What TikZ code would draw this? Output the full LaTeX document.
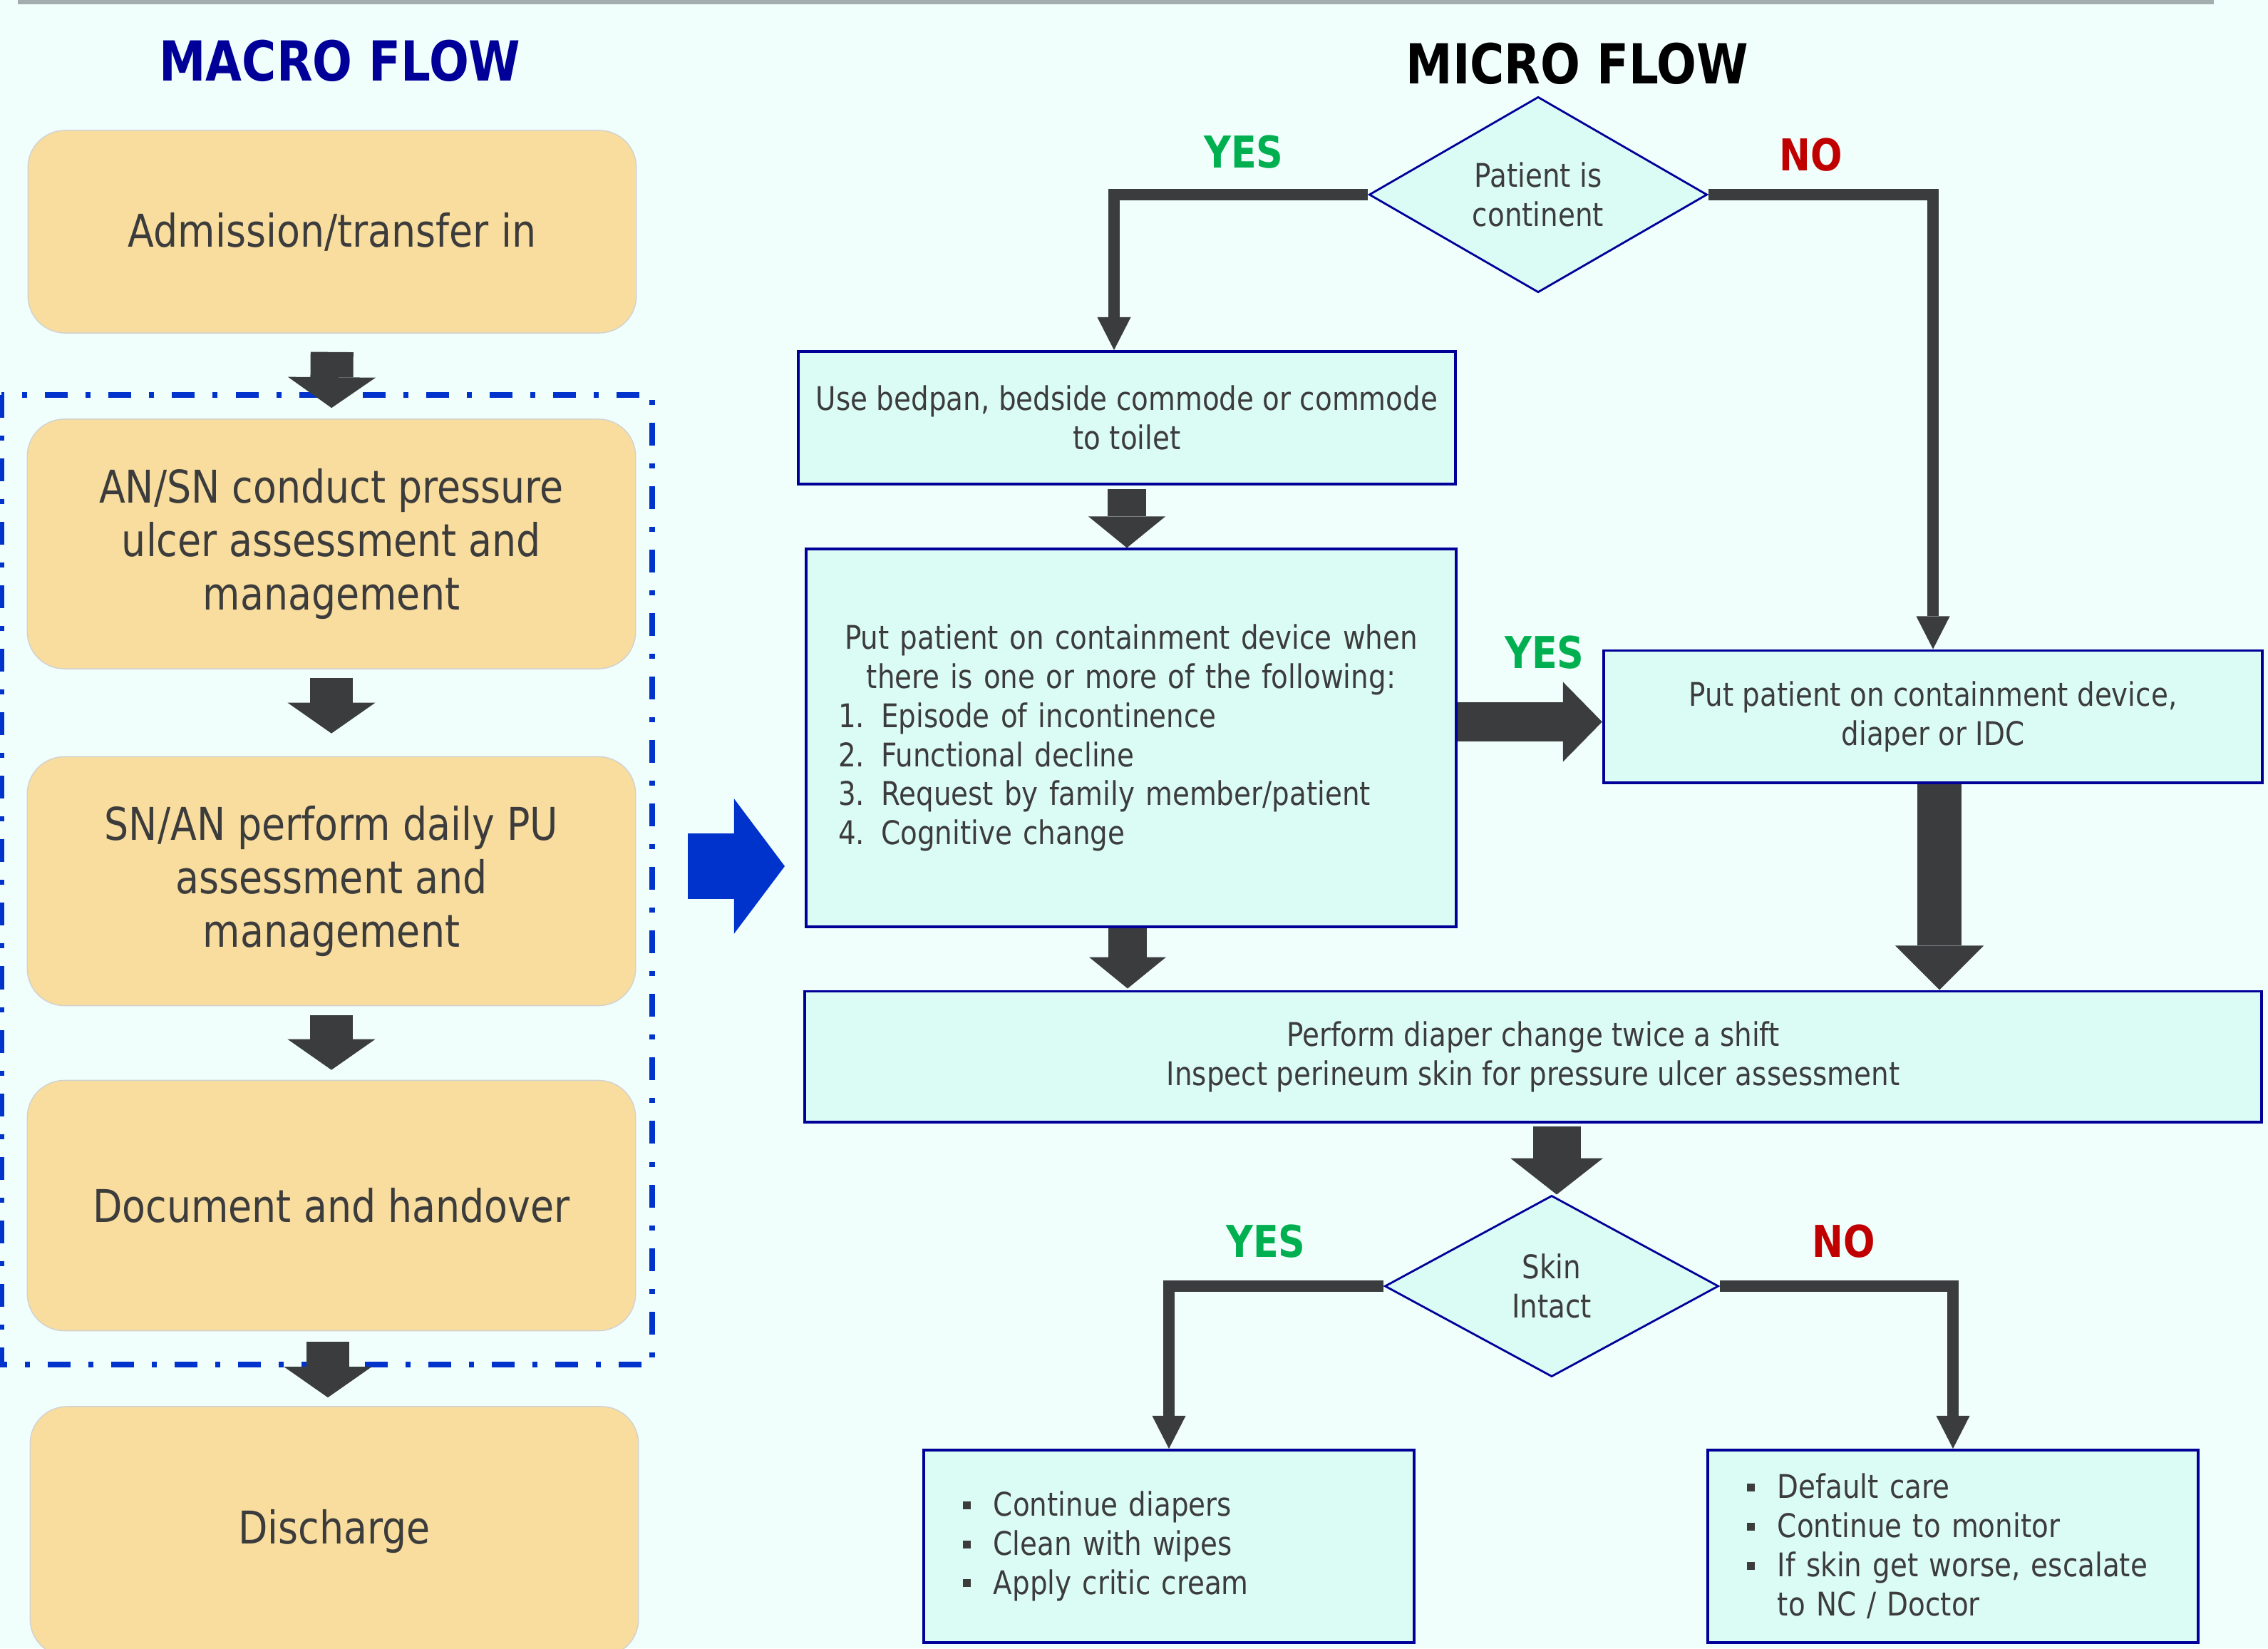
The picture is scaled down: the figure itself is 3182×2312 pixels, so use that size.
\documentclass[tikz,border=0pt]{standalone}
\usepackage{fontspec}
\setmainfont{DejaVu Sans}[FakeStretch=0.85]
\usetikzlibrary{arrows.meta, positioning, shapes.geometric}

\definecolor{pagebg}{HTML}{F0FEFC}
\definecolor{wheat}{HTML}{F8DD9E}
\definecolor{mint}{HTML}{DBFCF4}
\definecolor{navy}{HTML}{000099}
\definecolor{inkgray}{HTML}{3C3C3C}
\definecolor{arrowgray}{HTML}{3B3C3E}
\definecolor{flowblue}{HTML}{0033CC}
\definecolor{yesgreen}{HTML}{00B050}
\definecolor{nored}{HTML}{C00000}
\definecolor{shadegray}{HTML}{A3ADAD}

\newcommand{\sqbullet}{\makebox[0.43cm][l]{\rule[0.1cm]{0.11cm}{0.11cm}}}

\begin{document}
\begin{tikzpicture}[x=0.01cm, y=-0.01cm,
    macrobox/.style={draw=black!18, fill=wheat, rounded corners=0.52cm, minimum width=8.53cm, align=center, text=inkgray, font=\fontsize{18}{21.3}\selectfont},
    microbox/.style={draw=navy, line width=1.1pt, fill=mint, inner sep=0pt, align=center, text=inkgray, font=\fontsize{13}{15.6}\selectfont},
    decision/.style={diamond, draw=navy, line width=0.8pt, fill=mint, inner sep=0pt, align=center, text=inkgray, font=\fontsize{13}{15.6}\selectfont},
    title/.style={font=\bfseries\fontsize{22}{26}\selectfont},
    answer/.style={font=\bfseries\fontsize{17.5}{20}\selectfont},
    macroarrow/.style={draw=arrowgray, line width=0.6cm, -{Triangle[length=0.43cm, width=1.23cm, line width=0pt]}},
    stepdown/.style={draw=arrowgray, line width=0.54cm, -{Triangle[length=0.44cm, width=1.08cm, line width=0pt]}},
    elbow/.style={draw=arrowgray, line width=0.16cm, -{Triangle[length=0.46cm, width=0.47cm, line width=0pt]}}
  ]
    \useasboundingbox (0,0) rectangle (3182,2312);
    \fill[pagebg] (0,0) rectangle (3182,2312);
    \fill[shadegray] (25,0) rectangle (3106,6);

    % macro flow
    \node[title, text=navy] (macrotitle) at (477,85) {MACRO FLOW};
    \draw[flowblue, line width=0.075cm, dash pattern=on 0.32cm off 0.25cm on 0.07cm off 0.25cm] (2,554) rectangle (915,1914);
    \node[macrobox, minimum height=2.84cm] (admit) at (466,325) {Admission/transfer in};
    \node[macrobox, minimum height=3.50cm] (assess) at (465,763) {AN/SN conduct pressure\\ulcer assessment and\\management};
    \node[macrobox, minimum height=3.49cm] (daily) at (465,1236) {SN/AN perform daily PU\\assessment and\\management};
    \node[macrobox, minimum height=3.51cm] (handover) at (465,1691) {Document and handover};
    \node[macrobox, minimum height=3.50cm] (discharge) at (469,2148) {Discharge};
    \draw[macroarrow, shorten <=0.26cm, shorten >=0.15cm] (admit.south) -- (assess.north);
    \draw[macroarrow, shorten <=0.12cm, shorten >=0.32cm] (assess.south) -- (daily.north);
    \draw[macroarrow, shorten <=0.13cm, shorten >=0.14cm] (daily.south) -- (handover.north);
    \draw[macroarrow, shorten <=0.15cm, shorten >=0.12cm] ([xshift=-0.05cm]handover.south) -- ([xshift=-0.05cm]handover.south |- discharge.north);

    % link between the two flows
    \coordinate (handoff) at (965,1215);
    \coordinate (intake) at (1101,1215);
    \draw[flowblue, line width=0.92cm, -{Triangle[length=0.71cm, width=1.89cm, line width=0pt]}] (handoff) -- (intake);

    % micro flow
    \node[title] (microtitle) at (2213,89) {MICRO FLOW};
    \node[decision, minimum width=4.74cm, minimum height=2.57cm] (continent) at (2158,273) {Patient is\\continent};
    \node[microbox, minimum width=9.22cm, minimum height=1.86cm] (bedpan) at (1581,586) {Use bedpan, bedside commode or commode\\to toilet};
    \node[microbox, text width=8.21cm, inner xsep=0.45cm, minimum height=5.29cm, align=left] (contain) at (1587,1035) {{\centering Put patient on containment device when\\there is one or more of the following:\par}1. Episode of incontinence\\2. Functional decline\\3. Request by family member/patient\\4. Cognitive change};
    \node[microbox, minimum width=9.24cm, minimum height=1.85cm] (diaper) at (2712,1005) {Put patient on containment device,\\diaper or IDC};
    \node[microbox, minimum width=20.42cm, minimum height=1.83cm] (perform) at (2151,1482) {Perform diaper change twice a shift\\Inspect perineum skin for pressure ulcer assessment};
    \node[decision, minimum width=4.68cm, minimum height=2.54cm] (skin) at (2177,1804) {Skin\\Intact};
    \node[microbox, text width=5.78cm, inner xsep=0.55cm, minimum height=2.70cm, align=left] (keep) at (1640,2169) {\sqbullet Continue diapers\\\sqbullet Clean with wipes\\\sqbullet Apply critic cream};
    \node[microbox, text width=5.78cm, inner xsep=0.55cm, minimum height=2.70cm, align=left] (escal) at (2740,2169) {\sqbullet Default care\\\sqbullet Continue to monitor\\\sqbullet If skin get worse, escalate\\\hspace*{0.43cm}to NC / Doctor};

    \node[answer, text=yesgreen] (yes1) at (1745,213) {YES};
    \node[answer, text=nored] (no1) at (2541,217) {NO};
    \node[answer, text=yesgreen] (yes2) at (2167,915) {YES};
    \node[answer, text=yesgreen] (yes3) at (1776,1741) {YES};
    \node[answer, text=nored] (no3) at (2587,1741) {NO};

    \draw[elbow] (continent.west) -| ([xshift=-0.18cm]bedpan.north);
    \draw[elbow] (continent.east) -| (diaper.north);
    \draw[stepdown, shorten <=0.05cm] (bedpan.south) -- (bedpan.south |- contain.north);
    \draw[stepdown, shorten >=0.02cm] ([xshift=-0.05cm]contain.south) -- ([xshift=-0.05cm]contain.south |- perform.north);
    \draw[stepdown, line width=0.55cm, -{Triangle[length=0.55cm, width=1.12cm, line width=0pt]}] ([yshift=-0.075cm]diaper.west -| contain.east) -- ([yshift=-0.075cm]diaper.west);
    \draw[stepdown, line width=0.62cm, -{Triangle[length=0.62cm, width=1.24cm, line width=0pt]}] ([xshift=0.09cm]diaper.south) -- ([xshift=0.09cm]diaper.south |- perform.north);
    \draw[stepdown, line width=0.67cm, -{Triangle[length=0.51cm, width=1.30cm, line width=0pt]}, shorten <=0.04cm] ([xshift=0.07cm]skin.north |- perform.south) -- ([xshift=0.07cm]skin.north);
    \draw[elbow] (skin.west) -| (keep.north);
    \draw[elbow] (skin.east) -| (escal.north);
  \end{tikzpicture}
\end{document}
